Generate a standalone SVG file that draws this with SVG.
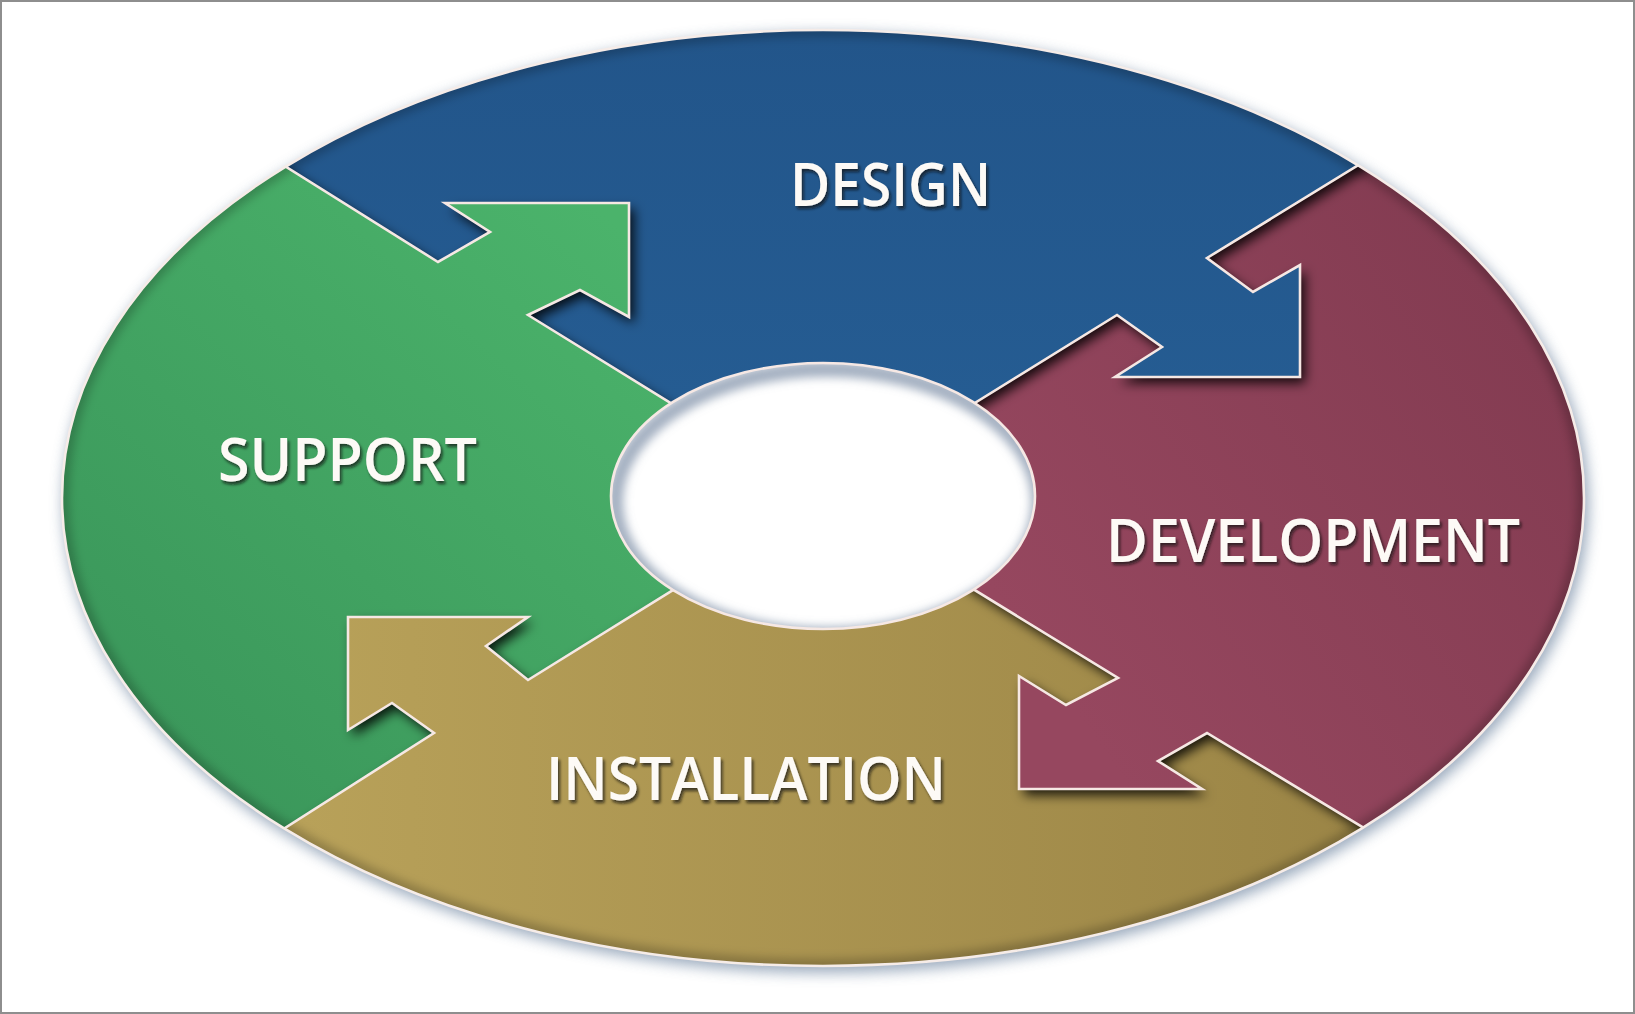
<svg xmlns="http://www.w3.org/2000/svg" xmlns:xlink="http://www.w3.org/1999/xlink" width="1635" height="1014" viewBox="0 0 1635 1014">
<style>
.label{font-family:"Open Sans","DejaVu Sans",sans-serif;font-weight:600;font-size:60px;fill:#fdfaf6;filter:url(#txt)}
.edge{fill:none;stroke:#f6e8e4;stroke-width:2.6;stroke-linejoin:miter}
.shade{fill:#000;filter:url(#cast)}
</style>
<defs>
<path id="shape-design" d="M200,113 L438,262 L490,232 L445,203 L629,203 L629,317 L580,290 L528,315 L823,497 L1117,315 L1162,347 L1115,377 L1300,377 L1300,265 L1253,292 L1207,258 L1440,115 L1440,-20 L200,-20 Z"/>
<path id="shape-support" d="M200,113 L438,262 L490,232 L445,203 L629,203 L629,317 L580,290 L528,315 L823,497 L528,680 L486,646 L528,617 L348,617 L348,730 L392,703 L434,733 L205,879 L-20,879 L-20,113 Z"/>
<path id="shape-development" d="M1440,115 L1207,258 L1253,292 L1300,265 L1300,377 L1115,377 L1162,347 L1117,315 L823,497 L1118,678 L1066,705 L1019,676 L1019,789 L1202,789 L1158,761 L1207,733 L1445,877 L1660,877 L1660,115 Z"/>
<path id="shape-installation" d="M823,497 L1118,678 L1066,705 L1019,676 L1019,789 L1202,789 L1158,761 L1207,733 L1445,877 L1445,1040 L205,1040 L205,879 L434,733 L392,703 L348,730 L348,617 L528,617 L486,646 L528,680 Z"/>
<clipPath id="outerClip"><ellipse cx="823" cy="498" rx="761" ry="468"/></clipPath>
<clipPath id="holeClip"><ellipse cx="823" cy="496" rx="212" ry="133"/></clipPath>
<clipPath id="clip-design"><path d="M200,113 L438,262 L490,232 L445,203 L629,203 L629,317 L580,290 L528,315 L823,497 L1117,315 L1162,347 L1115,377 L1300,377 L1300,265 L1253,292 L1207,258 L1440,115 L1440,-20 L200,-20 Z"/></clipPath>
<clipPath id="clip-support"><path d="M200,113 L438,262 L490,232 L445,203 L629,203 L629,317 L580,290 L528,315 L823,497 L528,680 L486,646 L528,617 L348,617 L348,730 L392,703 L434,733 L205,879 L-20,879 L-20,113 Z"/></clipPath>
<clipPath id="clip-development"><path d="M1440,115 L1207,258 L1253,292 L1300,265 L1300,377 L1115,377 L1162,347 L1117,315 L823,497 L1118,678 L1066,705 L1019,676 L1019,789 L1202,789 L1158,761 L1207,733 L1445,877 L1660,877 L1660,115 Z"/></clipPath>
<clipPath id="clip-installation"><path d="M823,497 L1118,678 L1066,705 L1019,676 L1019,789 L1202,789 L1158,761 L1207,733 L1445,877 L1445,1040 L205,1040 L205,879 L434,733 L392,703 L348,730 L348,617 L528,617 L486,646 L528,680 Z"/></clipPath>
<linearGradient id="gBlue" gradientUnits="userSpaceOnUse" x1="0" y1="30" x2="0" y2="400"><stop offset="0" stop-color="#22558a"/><stop offset="1" stop-color="#255c92"/></linearGradient>
<linearGradient id="gGreen" gradientUnits="userSpaceOnUse" x1="120" y1="760" x2="610" y2="220"><stop offset="0" stop-color="#3a965a"/><stop offset="1" stop-color="#4bb36b"/></linearGradient>
<linearGradient id="gMaroon" gradientUnits="userSpaceOnUse" x1="1040" y1="660" x2="1520" y2="330"><stop offset="0" stop-color="#96475f"/><stop offset="1" stop-color="#843c52"/></linearGradient>
<linearGradient id="gGold" gradientUnits="userSpaceOnUse" x1="300" y1="0" x2="1360" y2="0"><stop offset="0" stop-color="#b8a159"/><stop offset="1" stop-color="#9b8546"/></linearGradient>
<filter id="halo" x="-10%" y="-10%" width="120%" height="120%"><feGaussianBlur stdDeviation="7"/></filter>
<filter id="soft" x="-10%" y="-10%" width="120%" height="120%"><feGaussianBlur stdDeviation="5"/></filter>
<filter id="cast" filterUnits="userSpaceOnUse" x="-60" y="-60" width="1760" height="1140">
<feGaussianBlur in="SourceAlpha" stdDeviation="6"/>
<feOffset dx="5" dy="6" result="b"/>
<feFlood flood-color="#000" flood-opacity="0.85"/>
<feComposite in2="b" operator="in"/>
</filter>
<filter id="txt" x="-10%" y="-30%" width="125%" height="170%"><feDropShadow dx="2" dy="3" stdDeviation="1.6" flood-color="#111" flood-opacity="0.7"/></filter>
</defs>
<rect x="1" y="1" width="1633" height="1012" fill="#ffffff" stroke="#8e8e8e" stroke-width="2"/>
<ellipse cx="826" cy="503" rx="763" ry="470" fill="#7c90a9" opacity="0.75" filter="url(#halo)"/>
<g id="ring" clip-path="url(#outerClip)">
<g id="design">
<use xlink:href="#shape-design" fill="url(#gBlue)"/>
<g clip-path="url(#clip-design)"><use xlink:href="#shape-support" class="shade"/></g>
<text class="label" x="790" y="206" textLength="201" lengthAdjust="spacingAndGlyphs">DESIGN</text>
</g>
<g id="support">
<use xlink:href="#shape-support" fill="url(#gGreen)"/>
<g clip-path="url(#clip-support)"><use xlink:href="#shape-installation" class="shade"/></g>
<text class="label" x="218" y="481" textLength="259" lengthAdjust="spacingAndGlyphs">SUPPORT</text>
</g>
<g id="development">
<use xlink:href="#shape-development" fill="url(#gMaroon)"/>
<g clip-path="url(#clip-development)"><use xlink:href="#shape-design" class="shade"/></g>
<text class="label" x="1106" y="562" textLength="414" lengthAdjust="spacingAndGlyphs">DEVELOPMENT</text>
</g>
<g id="installation">
<use xlink:href="#shape-installation" fill="url(#gGold)"/>
<g clip-path="url(#clip-installation)"><use xlink:href="#shape-development" class="shade"/></g>
<text class="label" x="546" y="800" textLength="400" lengthAdjust="spacingAndGlyphs">INSTALLATION</text>
</g>
<ellipse cx="823" cy="498" rx="761" ry="468" fill="none" stroke="#000" stroke-opacity="0.22" stroke-width="14" filter="url(#soft)"/>
</g>
<g id="connectors" clip-path="url(#outerClip)">
<path class="edge" d="M200,113 L438,262 L490,232 L445,203 L629,203 L629,317 L580,290 L528,315 L823,497"/>
<path class="edge" d="M1440,115 L1207,258 L1253,292 L1300,265 L1300,377 L1115,377 L1162,347 L1117,315 L823,497"/>
<path class="edge" d="M823,497 L1118,678 L1066,705 L1019,676 L1019,789 L1202,789 L1158,761 L1207,733 L1445,877"/>
<path class="edge" d="M823,497 L528,680 L486,646 L528,617 L348,617 L348,730 L392,703 L434,733 L205,879"/>
</g>
<g id="hole">
<ellipse cx="823" cy="496" rx="212" ry="133" fill="#ffffff"/>
<g clip-path="url(#holeClip)"><ellipse cx="827" cy="502" rx="212" ry="133" fill="none" stroke="#7d8ea6" stroke-opacity="0.7" stroke-width="16" filter="url(#soft)"/></g>
<ellipse cx="823" cy="496" rx="212" ry="133" fill="none" stroke="#f6e8e4" stroke-width="2.6"/>
</g>
<ellipse cx="823" cy="498" rx="761" ry="468" fill="none" stroke="#f6ece8" stroke-width="2.6"/>
</svg>
